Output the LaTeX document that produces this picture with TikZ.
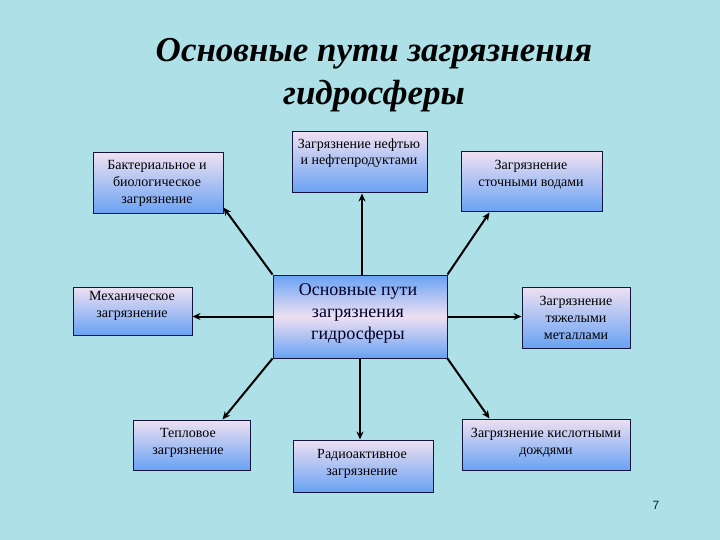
\documentclass[tikz,border=0pt]{standalone}
\usepackage{fontspec}
\setmainfont{Liberation Serif}
\newfontfamily\sansf{Liberation Sans}
\usetikzlibrary{arrows.meta,calc}
\definecolor{bg}{RGB}{174,224,231}
\definecolor{pinkc}{RGB}{238,224,242}
\definecolor{bluec}{RGB}{104,162,243}
\definecolor{navy}{RGB}{20,20,60}
\tikzset{
  box/.style={draw=navy, line width=1pt, top color=pinkc, bottom color=bluec, inner sep=0pt},
  cbox/.style={draw=navy, line width=1pt, top color=bluec, bottom color=bluec, middle color=pinkc, inner sep=0pt},
  txt/.style={align=center, inner sep=0pt, text=black, font=\fontsize{14}{17}\selectfont},
  ctxt/.style={align=center, inner sep=0pt, text=black!85!blue, font=\fontsize{18}{22}\selectfont},
  arr/.style={line width=2pt, -{Stealth[length=8pt,width=7pt]}}
}
\begin{document}
\begin{tikzpicture}[x=1pt,y=-1pt]
\fill[bg] (0,0) rectangle (720,540);
\useasboundingbox (0,0) rectangle (720,540);

\node[align=center, inner sep=0pt, font=\fontsize{35}{43}\selectfont\bfseries\itshape] (title) at (374,75) {Основные пути загрязнения\\гидросферы};

\node[box, minimum width=130pt, minimum height=61pt] (b) at (158,183.5) {};
\node[box, minimum width=135pt, minimum height=61pt] (n) at (359.5,162.5) {};
\node[box, minimum width=141pt, minimum height=60pt] (s) at (531.5,182) {};
\node[box, minimum width=119pt, minimum height=48pt] (m) at (132.5,311) {};
\node[cbox, minimum width=174pt, minimum height=83pt] (c) at (360,316.5) {};
\node[box, minimum width=108pt, minimum height=61pt] (h) at (576,317.5) {};
\node[box, minimum width=117pt, minimum height=50pt] (t) at (191.5,445) {};
\node[box, minimum width=140pt, minimum height=52pt] (r) at (363,466) {};
\node[box, minimum width=168pt, minimum height=51pt] (k) at (546,444.5) {};

\node[txt] (bt) at (157,183) {Бактериальное и\\биологическое\\загрязнение};
\node[txt, font=\fontsize{14}{15.5}\selectfont] (nt) at (359,153) {Загрязнение нефтью\\и нефтепродуктами};
\node[txt] (st) at (531,175) {Загрязнение\\сточными водами};
\node[txt] (mt) at (132,306) {Механическое\\загрязнение};
\node[ctxt] (ct) at (358,313) {Основные пути\\загрязнения\\гидросферы};
\node[txt] (ht) at (576,318) {Загрязнение\\тяжелыми\\металлами};
\node[txt] (tt) at (188,443) {Тепловое\\загрязнение};
\node[txt] (rt) at (362,464) {Радиоактивное\\загрязнение};
\node[txt] (kt) at (546,443) {Загрязнение кислотными\\дождями};

\draw[arr] (c.north west) -- ([yshift=7pt]b.south east);
\draw[arr] ([xshift=2pt]c.north) -- ([xshift=2pt]c.north |- n.south);
\draw[arr] (c.north east) -- ([xshift=29pt]s.south west);
\draw[arr] (c.west) -- (m.east |- c.west);
\draw[arr] (c.east) -- (h.west |- c.east);
\draw[arr] (c.south west) -- ([xshift=-28pt]t.north east);
\draw[arr] (c.south) -- (c.south |- r.north);
\draw[arr] (c.south east) -- ([xshift=28pt]k.north west);

\node[inner sep=0pt, font=\sansf\fontsize{12}{14}\selectfont, text=navy] (pg) at (656,505) {7};
\end{tikzpicture}
\end{document}
